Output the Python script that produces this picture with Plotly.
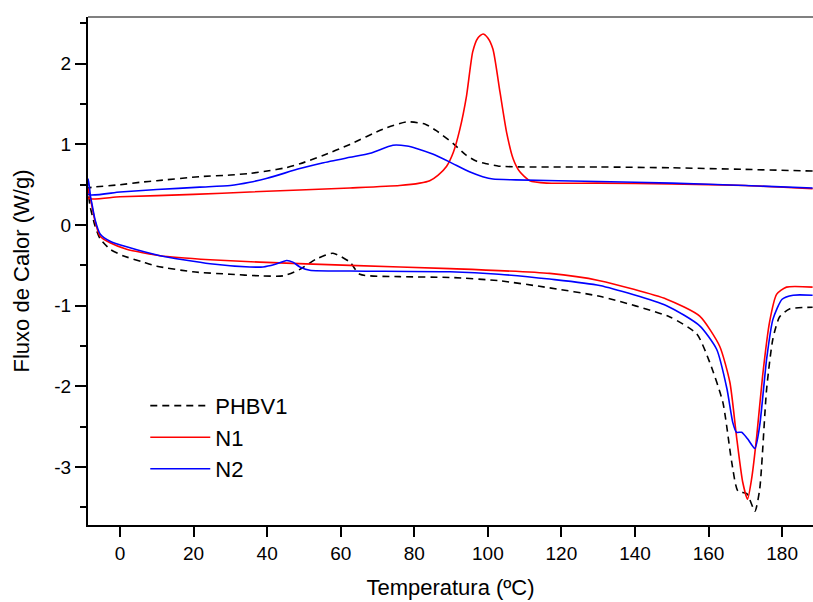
import plotly.graph_objects as go

# PHBV1 - cooling (upper) and heating (lower) segments
phbv1_cool_t = [-8.7, -7.3, 0, 5.4, 10, 21.7, 30, 35.3, 40, 45, 48.9, 55, 62.5, 71.5, 78, 83, 86,
                90.6, 94, 97, 99.7, 103, 110, 130, 150, 170, 188.3]
phbv1_cool_f = [0.46, 0.47, 0.50, 0.53, 0.55, 0.60, 0.62, 0.64, 0.67, 0.71, 0.76, 0.86, 1.0, 1.19, 1.28,
                1.25, 1.17, 1.01, 0.87, 0.79, 0.76, 0.73, 0.72, 0.72, 0.71, 0.69, 0.67]
phbv1_heat_t = [-8.7, -8.2, -6.8, -5.4, -2.7, 0.8, 6.3, 10, 19.8, 30, 38, 44.4, 48.9, 53.4, 57.9, 62.5,
                65.2, 76, 89.7, 103, 115.5, 131, 149.5, 156.8, 160.3, 163.9, 166.3, 168, 170.4, 172.6,
                173.9, 175.8, 177.5, 179.3, 182, 188.3]
phbv1_heat_f = [0.46, 0.25, -0.01, -0.17, -0.30, -0.38, -0.46, -0.51, -0.58, -0.61, -0.63, -0.63, -0.55,
                -0.42, -0.35, -0.46, -0.61, -0.64, -0.65, -0.69, -0.77, -0.89, -1.14, -1.35, -1.70, -2.2,
                -2.94, -3.3, -3.33, -3.55, -3.28, -2.03, -1.41, -1.14, -1.04, -1.02]

# N1
n1_cool_t = [-8.7, 0, 20, 35.3, 62.5, 76, 81.5, 84.2, 86.5, 88.8, 90.6, 92.4, 94.2, 95.9, 97.3, 98.7,
             100, 101.4, 103.3, 105.1, 106.9, 108.7, 111.4, 116, 130, 150, 170, 188.3]
n1_cool_f = [0.33, 0.35, 0.38, 0.41, 0.46, 0.49, 0.52, 0.55, 0.62, 0.73, 0.9, 1.19, 1.6, 2.15, 2.32,
             2.37, 2.32, 2.18, 1.65, 1.15, 0.82, 0.66, 0.55, 0.52, 0.52, 0.51, 0.49, 0.45]
n1_heat_t = [-8.6, -7.7, -6.8, -5.4, -2.7, 1.8, 10.9, 24.5, 38, 62.5, 89.7, 116.8, 130.4, 148.6, 157.6,
             163, 165.8, 167.6, 169.3, 170.6, 171.7, 173.1, 174.7, 176.6, 178.5, 181.2, 188.3]
n1_heat_f = [0.45, 0.25, 0.05, -0.14, -0.22, -0.30, -0.38, -0.43, -0.46, -0.50, -0.54, -0.60, -0.69,
             -0.92, -1.13, -1.5, -1.95, -2.62, -3.19, -3.4, -3.15, -2.62, -1.87, -1.2, -0.86, -0.77, -0.77]

# N2
n2_cool_t = [-8.7, 0, 10, 21.7, 30, 35.3, 40, 48.9, 55, 62.5, 68, 74.2, 78, 80.6, 85, 89.7, 95, 98.6,
             101.4, 107.6, 130, 150, 170, 188.3]
n2_cool_f = [0.38, 0.41, 0.44, 0.47, 0.49, 0.53, 0.58, 0.70, 0.77, 0.84, 0.89, 0.99, 0.98, 0.95, 0.88,
             0.78, 0.66, 0.60, 0.57, 0.56, 0.54, 0.52, 0.49, 0.46]
n2_heat_t = [-8.6, -8.0, -7.7, -6.8, -5.4, -2.7, 1.8, 10.9, 24.5, 35.3, 38.9, 42, 45.3, 47, 48.9, 51.6,
             62.5, 89.7, 103, 116.8, 130.4, 148.6, 157.6, 162.2, 165, 166.6, 167.6, 169, 170.6, 172.6,
             173.9, 175.8, 177.5, 180, 183, 188.3]
n2_heat_f = [0.57, 0.35, 0.28, 0.07, -0.11, -0.20, -0.27, -0.38, -0.48, -0.52, -0.52, -0.49, -0.44,
             -0.46, -0.52, -0.56, -0.57, -0.58, -0.61, -0.67, -0.75, -1.0, -1.25, -1.54, -2.03, -2.45,
             -2.57, -2.57, -2.65, -2.77, -2.49, -1.66, -1.17, -0.92, -0.87, -0.87]

# y tick labels use a plain hyphen like the original
y_tickvals = [-3, -2, -1, 0, 1, 2]
y_ticktext = ["-3", "-2", "-1", "0", "1", "2"]

FONT = "Liberation Sans, Arial, sans-serif"


def joined(cool_t, cool_f, heat_t, heat_f):
    # cooling runs from high T to low T, then heating goes back up
    return list(reversed(cool_t)) + heat_t, list(reversed(cool_f)) + heat_f


fig = go.Figure()
series = [
    ("PHBV1", phbv1_cool_t, phbv1_cool_f, phbv1_heat_t, phbv1_heat_f, "#000000", "7px,5px"),
    ("N1", n1_cool_t, n1_cool_f, n1_heat_t, n1_heat_f, "#ff0000", "solid"),
    ("N2", n2_cool_t, n2_cool_f, n2_heat_t, n2_heat_f, "#0000ff", "solid"),
]
for name, ct, cf, ht, hf, color, dash in series:
    x, y = joined(ct, cf, ht, hf)
    fig.add_trace(go.Scatter(
        x=x, y=y, mode="lines", name=name,
        line=dict(color=color, width=1.6, dash=dash, shape="spline", smoothing=0.6),
    ))

fig.update_layout(
    width=813, height=602,
    margin=dict(l=88, r=0, t=17, b=77),
    plot_bgcolor="white", paper_bgcolor="white",
    font=dict(family=FONT, color="#000000", size=19),
    showlegend=True,
    legend=dict(
        x=0.079, y=0.276, xanchor="left", yanchor="top",
        bgcolor="rgba(0,0,0,0)", font=dict(size=22, family=FONT),
        itemwidth=60, tracegroupgap=0,
    ),
    xaxis=dict(
        range=[-8.7, 188.4], showgrid=False, zeroline=False, automargin=False,
        showline=True, linecolor="#000000", linewidth=2,
        ticks="outside", ticklen=10, tickwidth=2, tickcolor="#000000",
        tick0=0, dtick=20,
        title=dict(text="Temperatura (ºC)", font=dict(size=22), standoff=17),
    ),
    yaxis=dict(
        range=[-3.72, 2.58], showgrid=False, zeroline=False, automargin=False,
        showline=True, linecolor="#000000", linewidth=2,
        ticks="outside", ticklen=11, tickwidth=2, tickcolor="#000000",
        tickvals=y_tickvals, ticktext=y_ticktext,
        minor=dict(ticks="outside", ticklen=6, tickwidth=2, tickcolor="#000000", dtick=0.5),
        title=dict(text="Fluxo de Calor (W/g)", font=dict(size=22), standoff=19),
    ),
)
# thin grey frame line along the top
fig.add_shape(type="line", xref="paper", yref="paper", x0=0, x1=1, y0=1, y1=1,
              line=dict(color="#808080", width=2))

# drop the default page margin so the figure sits at the window's top-left corner
fig.write_html(
    "out.html",
    config={"displayModeBar": False},
    post_script="document.body.style.margin='0';document.body.style.overflow='hidden';",
)
